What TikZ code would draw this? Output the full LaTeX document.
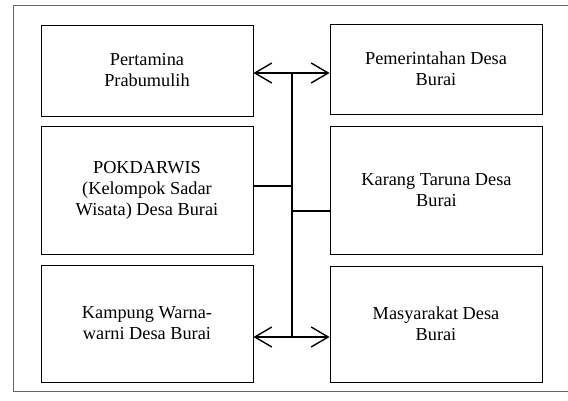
\documentclass[tikz,border=0pt]{standalone}
\usepackage{fontspec}
\setmainfont{Liberation Serif}
\usetikzlibrary{arrows.meta}
\tikzset{>={Straight Barb[length=17pt,width=20pt]}}

\begin{document}
\begin{tikzpicture}[x=1pt,y=-1pt,
  kotak/.style={draw,line width=0.9pt,minimum width=212pt,align=center,
    font=\fontsize{18.3}{21}\selectfont,inner sep=0pt},
  garis/.style={line width=1.4pt}]
\useasboundingbox (0,0) rectangle (568,401);
\draw[gray!80!black,line width=0.8pt] (13,5) rectangle (580,391);
% kolom kiri
\node[kotak,minimum height=91pt] (pertamina) at (147,70.5) {Pertamina\\Prabumulih};
\node[kotak,minimum height=128pt] (pokdarwis) at (147,190) {POKDARWIS\\(Kelompok Sadar\\Wisata) Desa Burai};
\node[kotak,minimum height=117pt] (kampung) at (147,323.5) {Kampung Warna-\\warni Desa Burai};
% kolom kanan
\node[kotak,minimum height=90pt] (pemdes) at (436,69) {Pemerintahan Desa\\Burai};
\node[kotak,minimum height=128pt] (karang) at (436.5,190) {Karang Taruna Desa\\Burai};
\node[kotak,minimum height=116pt] (masyarakat) at (436,324) {Masyarakat Desa\\Burai};
% penghubung
\coordinate (atas) at (292,73);
\coordinate (bawah) at (292,337);
\draw[garis] (atas) -- (bawah);
\draw[garis,<->] (pertamina.east |- atas) -- (pemdes.west |- atas);
\draw[garis,<->] (kampung.east |- bawah) -- (masyarakat.west |- bawah);
\draw[garis] (pokdarwis.east |- 0,186) -- (292,186);
\draw[garis] (karang.west |- 0,211) -- (292,211);
\end{tikzpicture}
\end{document}
